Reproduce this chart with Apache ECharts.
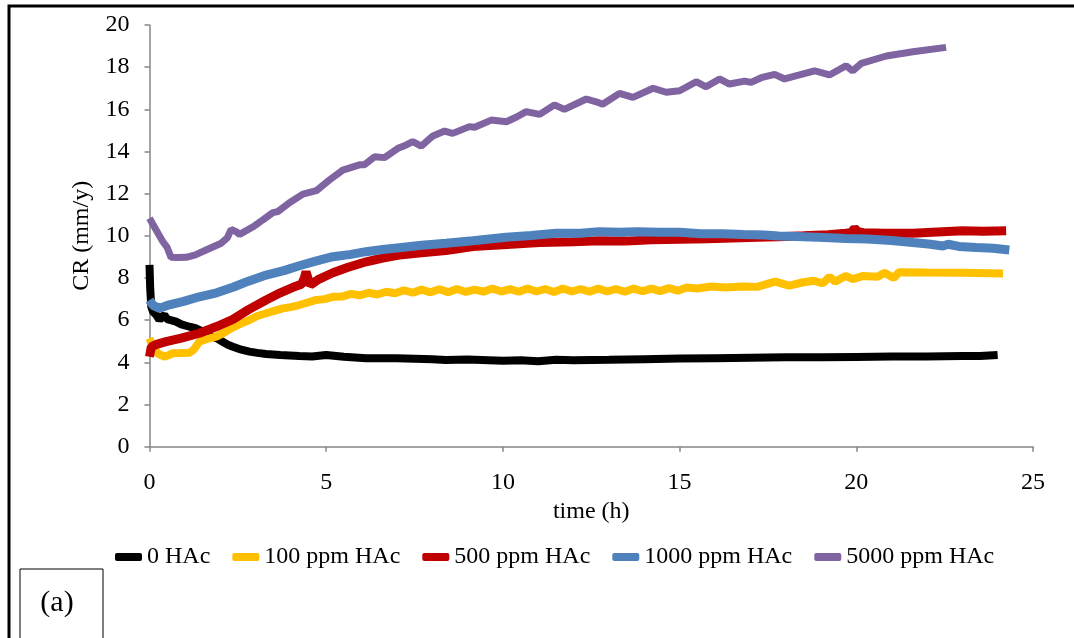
<!DOCTYPE html>
<html>
<head>
<meta charset="utf-8">
<script src="https://cdn.jsdelivr.net/npm/echarts@6/dist/echarts.min.js"></script>
<style>
html,body{margin:0;padding:0;background:#fff;}
#chart{width:1074px;height:638px;}
</style>
</head>
<body>
<div id="chart"></div>
<script>
// ---- data ----
const seriesNames = ['0 HAc', '100 ppm HAc', '500 ppm HAc', '1000 ppm HAc', '5000 ppm HAc'];
const xTicks = [0, 5, 10, 15, 20, 25];
const yTicks = [0, 2, 4, 6, 8, 10, 12, 14, 16, 18, 20];

const t0 = [0, 0.02, 0.05, 0.1, 0.19, 0.28, 0.35, 0.42, 0.5, 0.6, 0.75, 0.9, 1.13, 1.3, 1.41, 1.55, 1.7, 1.9, 2.07, 2.2, 2.36, 2.6, 2.83, 3.05, 3.3, 3.7, 4.24, 4.6, 5.0, 5.5, 6.13, 7.0, 8.0, 8.39, 9.0, 10.0, 10.5, 11.0, 11.5, 12.0, 13.0, 14.0, 15.0, 16.0, 17.0, 18.0, 19.0, 20.0, 21.0, 22.0, 23.0, 23.5, 24.0];
const cr0 = [8.62, 7.5, 6.64, 6.4, 6.25, 6.01, 6.15, 6.25, 6.05, 6.0, 5.93, 5.8, 5.69, 5.62, 5.53, 5.45, 5.25, 5.15, 4.98, 4.85, 4.74, 4.6, 4.51, 4.45, 4.4, 4.35, 4.3, 4.28, 4.35, 4.27, 4.19, 4.2, 4.15, 4.11, 4.14, 4.08, 4.1, 4.05, 4.12, 4.1, 4.12, 4.15, 4.18, 4.2, 4.22, 4.24, 4.24, 4.26, 4.28, 4.28, 4.3, 4.3, 4.35];

const t1 = [0, 0.1, 0.25, 0.42, 0.55, 0.66, 0.9, 1.13, 1.25, 1.41, 1.6, 1.89, 2.1, 2.36, 2.6, 2.83, 3.05, 3.3, 3.55, 3.77, 4.0, 4.24, 4.5, 4.72, 4.95, 5.19, 5.45, 5.7, 5.95, 6.2, 6.45, 6.7, 6.95, 7.2, 7.45, 7.7, 7.95, 8.2, 8.45, 8.7, 8.95, 9.2, 9.45, 9.7, 9.95, 10.2, 10.45, 10.7, 10.95, 11.2, 11.45, 11.7, 11.95, 12.2, 12.45, 12.7, 12.95, 13.2, 13.45, 13.7, 13.95, 14.2, 14.45, 14.7, 14.95, 15.2, 15.5, 15.9, 16.3, 16.8, 17.2, 17.7, 18.1, 18.5, 18.8, 19.05, 19.24, 19.4, 19.7, 19.9, 20.2, 20.6, 20.8, 21.06, 21.2, 22.0, 23.0, 24.15];
const cr1 = [5.14, 4.74, 4.4, 4.27, 4.35, 4.43, 4.44, 4.46, 4.6, 4.98, 5.1, 5.22, 5.4, 5.66, 5.85, 6.01, 6.2, 6.33, 6.45, 6.56, 6.62, 6.72, 6.85, 6.96, 7.0, 7.11, 7.12, 7.25, 7.18, 7.3, 7.22, 7.35, 7.28, 7.42, 7.3, 7.45, 7.32, 7.47, 7.33, 7.48, 7.34, 7.45, 7.35, 7.5, 7.36, 7.47, 7.35, 7.5, 7.36, 7.48, 7.34, 7.5, 7.36, 7.48, 7.35, 7.5, 7.36, 7.48, 7.35, 7.5, 7.37, 7.5, 7.38, 7.52, 7.4, 7.55, 7.5, 7.6, 7.55, 7.6, 7.58, 7.83, 7.64, 7.8, 7.87, 7.75, 8.06, 7.83, 8.1, 7.95, 8.1, 8.06, 8.25, 8.0, 8.27, 8.26, 8.25, 8.22];

const t2 = [0, 0.05, 0.2, 0.47, 0.9, 1.41, 1.9, 2.36, 2.8, 3.3, 3.7, 4.06, 4.3, 4.38, 4.43, 4.5, 4.55, 4.8, 5.19, 5.6, 6.13, 6.6, 7.07, 7.7, 8.39, 9.15, 10.0, 11.04, 12.0, 12.73, 13.5, 14.2, 15.0, 15.8, 16.5, 17.2, 17.8, 18.5, 19.2, 19.7, 19.85, 19.95, 20.05, 20.2, 20.8, 21.6, 22.3, 23.0, 23.6, 24.24];
const cr2 = [4.27, 4.74, 4.85, 4.98, 5.15, 5.38, 5.7, 6.04, 6.5, 6.96, 7.3, 7.56, 7.7, 8.0, 8.3, 7.9, 7.67, 7.95, 8.25, 8.5, 8.77, 8.95, 9.09, 9.2, 9.3, 9.49, 9.58, 9.68, 9.72, 9.77, 9.75, 9.82, 9.84, 9.86, 9.9, 9.93, 9.96, 10.0, 10.05, 10.12, 10.15, 10.36, 10.2, 10.15, 10.12, 10.12, 10.18, 10.24, 10.22, 10.24];

const t3 = [0, 0.1, 0.28, 0.5, 0.94, 1.41, 1.9, 2.36, 2.8, 3.3, 3.8, 4.24, 4.7, 5.19, 5.7, 6.13, 6.6, 7.07, 7.7, 8.39, 9.15, 10.09, 10.8, 11.5, 12.2, 12.73, 13.3, 13.8, 14.4, 15.0, 15.6, 16.2, 16.8, 17.4, 17.8, 18.5, 19.1, 19.7, 20.3, 21.0, 21.6, 22.1, 22.45, 22.6, 22.9, 23.4, 23.87, 24.33];
const cr3 = [6.96, 6.7, 6.56, 6.7, 6.88, 7.11, 7.3, 7.56, 7.85, 8.14, 8.35, 8.58, 8.8, 9.01, 9.12, 9.25, 9.35, 9.44, 9.55, 9.65, 9.77, 9.93, 10.02, 10.12, 10.12, 10.2, 10.17, 10.2, 10.17, 10.17, 10.1, 10.1, 10.06, 10.04, 9.99, 9.96, 9.92, 9.88, 9.85, 9.78, 9.68, 9.6, 9.52, 9.6, 9.5, 9.45, 9.41, 9.33];

const t4 = [0, 0.24, 0.38, 0.5, 0.61, 0.8, 1.04, 1.3, 1.6, 2.03, 2.2, 2.31, 2.45, 2.55, 2.97, 3.2, 3.49, 3.63, 3.96, 4.34, 4.72, 5.09, 5.47, 5.94, 6.08, 6.37, 6.65, 7.03, 7.25, 7.45, 7.69, 8.02, 8.35, 8.58, 9.05, 9.2, 9.67, 10.1, 10.4, 10.66, 11.04, 11.46, 11.74, 12.36, 12.69, 12.82, 13.3, 13.68, 14.25, 14.62, 15.0, 15.47, 15.75, 16.13, 16.41, 16.84, 17.02, 17.31, 17.69, 17.97, 18.39, 18.82, 19.24, 19.71, 19.9, 20.14, 20.85, 21.6, 22.54];
const cr4 = [10.83, 10.12, 9.72, 9.45, 8.98, 8.97, 8.98, 9.1, 9.33, 9.65, 9.9, 10.31, 10.2, 10.07, 10.47, 10.75, 11.1, 11.15, 11.57, 11.98, 12.14, 12.65, 13.12, 13.37, 13.37, 13.75, 13.71, 14.15, 14.3, 14.47, 14.26, 14.74, 14.97, 14.86, 15.18, 15.15, 15.49, 15.41, 15.65, 15.89, 15.76, 16.21, 16.0, 16.49, 16.33, 16.24, 16.76, 16.57, 17.0, 16.81, 16.88, 17.31, 17.07, 17.44, 17.2, 17.34, 17.28, 17.5, 17.66, 17.44, 17.63, 17.83, 17.63, 18.07, 17.82, 18.18, 18.53, 18.73, 18.94];

const colors = ['#000000', '#FFC000', '#C00000', '#4F81BD', '#8064A2'];
const widths = [8, 8, 9, 9, 7];

const times = [t0, t1, t2, t3, t4];
const values = [cr0, cr1, cr2, cr3, cr4];

const FONT = '"Liberation Serif", "Times New Roman", serif';
const AXIS_GRAY = '#868686';

const chart = echarts.init(document.getElementById('chart'), null, {renderer: 'canvas'});

const series = seriesNames.map((name, i) => ({
  name: name,
  type: 'line',
  data: times[i].map((t, k) => [t, values[i][k]]),
  showSymbol: false,
  symbol: 'none',
  lineStyle: {color: colors[i], width: widths[i]},
  itemStyle: {color: colors[i]},
  animation: false
}));

chart.setOption({
  animation: false,
  backgroundColor: '#ffffff',
  grid: {left: 149.5, right: 41, top: 25, bottom: 191.3, containLabel: false},
  xAxis: {
    type: 'value', min: 0, max: 25, interval: 5,
    name: 'time (h)', nameLocation: 'middle', nameGap: 47,
    nameTextStyle: {fontFamily: FONT, fontSize: 24, color: '#000'},
    axisLine: {show: true, onZero: false, lineStyle: {color: AXIS_GRAY, width: 1.5}},
    axisTick: {show: true, length: 5, inside: false, lineStyle: {color: AXIS_GRAY, width: 1.5}},
    axisLabel: {fontFamily: FONT, fontSize: 24, color: '#000', margin: 24},
    splitLine: {show: false}
  },
  yAxis: {
    type: 'value', min: 0, max: 20, interval: 2,
    name: 'CR (mm/y)', nameLocation: 'middle', nameGap: 56, nameRotate: 90,
    nameTextStyle: {fontFamily: FONT, fontSize: 24, color: '#000'},
    axisLine: {show: true, onZero: false, lineStyle: {color: AXIS_GRAY, width: 1.5}},
    axisTick: {show: true, length: 5, inside: false, lineStyle: {color: AXIS_GRAY, width: 1.5}},
    axisLabel: {fontFamily: FONT, fontSize: 24, color: '#000', margin: 20},
    splitLine: {show: false}
  },
  legend: {
    show: true, left: 115, top: 545, padding: 0,
    icon: 'roundRect',
    itemWidth: 27, itemHeight: 8, itemGap: 22,
    data: seriesNames,
    textStyle: {fontFamily: FONT, fontSize: 24, color: '#000'},
    selectedMode: false
  },
  graphic: [
    {type: 'rect', silent: true, z: 100,
     shape: {x: 9, y: 6, width: 1100, height: 700},
     style: {fill: 'none', stroke: '#000', lineWidth: 3}},
    {type: 'rect', silent: true, z: 100,
     shape: {x: 20, y: 569, width: 83, height: 80},
     style: {fill: '#fff', stroke: '#000', lineWidth: 1}},
    {type: 'text', silent: true, z: 101,
     x: 57, y: 603,
     style: {text: '(a)', fontFamily: FONT, fontSize: 30, fill: '#000', align: 'center', verticalAlign: 'middle'}}
  ],
  series: series
});
</script>
</body>
</html>
